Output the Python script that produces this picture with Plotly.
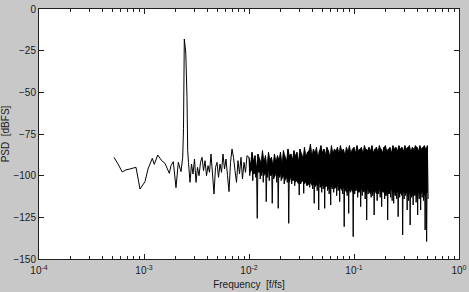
import numpy as np
import plotly.graph_objects as go

# ---- data (frequency in f/fs, PSD in dBFS) ----
LOW_F = [5.18e-4, 5.65e-4, 6.21e-4, 6.74e-4, 7.36e-4, 7.91e-4, 8.39e-4, 9.16e-4,
         1.022e-3, 1.092e-3, 1.141e-3, 1.200e-3, 1.253e-3, 1.351e-3, 1.474e-3, 1.585e-3,
         1.742e-3, 1.808e-3, 1.901e-3, 2.017e-3, 2.122e-3, 2.251e-3, 2.337e-3, 2.378e-3,
         2.420e-3, 2.501e-3, 2.567e-3, 2.607e-3]
LOW_PSD = [-89, -93, -97.8, -96.5, -96, -95.4, -95, -108,
           -103.6, -96, -93, -89.6, -93.2, -87.6, -91, -92.6,
           -98.6, -94, -91.6, -107.2, -92, -97.6, -89, -71.6,
           -18, -26.4, -53, -85]

MID_F = [2.653e-3, 2.742e-3, 2.834e-3, 2.929e-3, 3.027e-3, 3.129e-3, 3.233e-3, 3.342e-3,
         3.454e-3, 3.569e-3, 3.689e-3, 3.812e-3, 3.940e-3, 4.072e-3, 4.208e-3, 4.349e-3,
         4.494e-3, 4.642e-3, 4.798e-3, 4.958e-3, 5.124e-3, 5.296e-3, 5.473e-3, 5.654e-3,
         5.843e-3, 6.039e-3, 6.241e-3, 6.450e-3, 6.665e-3, 6.888e-3, 7.118e-3, 7.356e-3,
         7.602e-3, 7.857e-3, 8.120e-3, 8.391e-3, 8.672e-3, 8.962e-3, 9.261e-3, 9.571e-3]
MID_PSD = [-92, -104, -93, -99, -90, -104, -95, -100,
           -92, -89, -97, -91, -100, -94, -98, -87,
           -99, -111, -95, -92, -101, -93, -98, -87,
           -96, -90, -100, -109.6, -92, -84, -89, -97,
           -104, -91, -99, -89, -102, -92, -98, -88]

# dense noise floor 0.01 .. 0.5: per-bin upper excursion, bottom of the solid
# black body, and lower excursion (spikes)
BAND_START, BAND_END, BAND_BINS = 0.01, 0.5, 120
BAND_UPPER = [
    -89, -93, -86, -91, -88, -95, -87, -90, -92, -85, -91, -88, -94, -86, -90, -89, -93, -87, -91, -88,
    -90, -86, -92, -85, -89, -91, -84, -88, -87, -90, -85, -88, -86, -91, -84, -87, -89, -83, -88, -86,
    -85, -81, -87, -84, -86, -83, -88, -85, -82, -86, -84, -87, -83, -85, -88, -82, -86, -84, -85, -83,
    -86, -82, -85, -84, -87, -83, -85, -82, -86, -84, -83, -86, -82, -85, -84, -83, -86, -82, -84, -85,
    -83, -85, -82, -86, -84, -83, -85, -82, -84, -86, -83, -82, -85, -84, -83, -86, -82, -84, -83, -85,
    -82, -84, -83, -85, -82, -84, -83, -82, -85, -83, -84, -82, -83, -85, -82, -84, -83, -82, -84, -82]
BAND_CORE = [
    -96, -98, -95, -99, -97, -100, -96, -98, -99, -97, -100, -98, -101, -97, -99, -100, -98, -101, -99, -100,
    -101, -99, -102, -100, -103, -101, -102, -104, -101, -103, -102, -104, -103, -105, -102, -104, -103, -105, -104, -106,
    -105, -104, -106, -105, -107, -105, -106, -104, -107, -106, -105, -107, -106, -108, -106, -107, -105, -108, -107, -106,
    -108, -107, -109, -107, -108, -110, -107, -109, -108, -110, -108, -109, -107, -110, -109, -108, -110, -109, -111, -108,
    -109, -111, -108, -110, -109, -111, -110, -108, -111, -109, -110, -112, -109, -111, -110, -108, -111, -110, -112, -109,
    -111, -110, -112, -109, -111, -110, -112, -111, -109, -112, -110, -111, -113, -110, -112, -111, -109, -112, -111, -110]
BAND_LOWER = [
    -100, -97, -103, -99, -101, -125.6, -98, -102, -100, -104, -99, -115.6, -101, -103, -100, -116.6, -102, -99, -104, -119.6,
    -101, -103, -100, -105, -102, -104, -128.6, -101, -105, -103, -106, -102, -104, -111.6, -105, -103, -110.6, -104, -106, -105,
    -107, -105, -108, -116.6, -106, -109, -120.6, -107, -110, -108, -119.6, -106, -109, -111, -117.6, -108, -110, -107, -112, -109,
    -115.6, -108, -111, -130.6, -109, -112, -122.6, -110, -108, -136.6, -111, -109, -113, -110, -118.6, -112, -109, -114, -126.6, -111,
    -110, -113, -112, -123.6, -109, -115, -111, -113, -118.6, -110, -114, -112, -126.6, -111, -113, -115, -116.6, -112, -114, -124.6,
    -113, -111, -135.6, -114, -112, -120.6, -115, -129.6, -113, -117.6, -112, -116, -123.6, -114, -120.6, -113, -115, -132.6, -139.5, -114]

X_TICKS = [1e-4, 1e-3, 1e-2, 1e-1, 1e0]
X_TICKTEXT = ["10<sup>-4</sup>", "10<sup>-3</sup>", "10<sup>-2</sup>", "10<sup>-1</sup>", "10<sup>0</sup>"]
Y_TICKS = [0, -25, -50, -75, -100, -125, -150]

# ---- build traces ----
band_f = np.geomspace(BAND_START, BAND_END, BAND_BINS)
ratio = (BAND_END / BAND_START) ** (1.0 / (BAND_BINS - 1))
bx, by = [], []
for f, u, l in zip(band_f, BAND_UPPER, BAND_LOWER):
    bx += [f, f * ratio ** 0.5]
    by += [u, l]

x = list(LOW_F) + list(MID_F) + bx
y = list(LOW_PSD) + list(MID_PSD) + by

# solid black body of the noise band
body_x = list(band_f) + list(band_f[::-1])
body_y = list(BAND_UPPER) + list(BAND_CORE[::-1])

minor_vals = [m * d for d in X_TICKS[:-1] for m in range(2, 10)]

fig = go.Figure()
fig.add_trace(go.Scatter(x=body_x, y=body_y, mode="lines", fill="toself",
                         fillcolor="black", line=dict(color="black", width=0.6),
                         hoverinfo="skip"))
fig.add_trace(go.Scatter(x=x, y=y, mode="lines",
                         line=dict(color="black", width=1, simplify=False),
                         hoverinfo="skip"))

axis_common = dict(showline=True, linecolor="#202020", linewidth=1, mirror="ticks",
                   ticks="inside", ticklen=5, tickcolor="#202020", tickwidth=1,
                   showgrid=False, zeroline=False, automargin=False)

fig.update_layout(
    width=469, height=292,
    paper_bgcolor="#c8c8c8", plot_bgcolor="white",
    margin=dict(l=39, r=10, t=9, b=33),
    showlegend=False,
    font=dict(family="Liberation Sans, Arial, sans-serif", size=10, color="#1a1a1a"),
    xaxis=dict(type="log", range=[-4, 0], tickmode="array", tickvals=X_TICKS, ticktext=X_TICKTEXT,
               ticklabelstandoff=2,
               minor=dict(tickmode="array", tickvals=minor_vals, ticks="inside", ticklen=3,
                          tickcolor="#202020", showgrid=False),
               title=dict(text="Frequency\u00a0 [f/fs]", standoff=5, font=dict(size=10)),
               **axis_common),
    yaxis=dict(range=[-150, 0], tickmode="array", tickvals=Y_TICKS,
               title=dict(text="PSD\u00a0 [dBFS]", standoff=4, font=dict(size=10)),
               **axis_common),
)

fig.write_html("out.html")
